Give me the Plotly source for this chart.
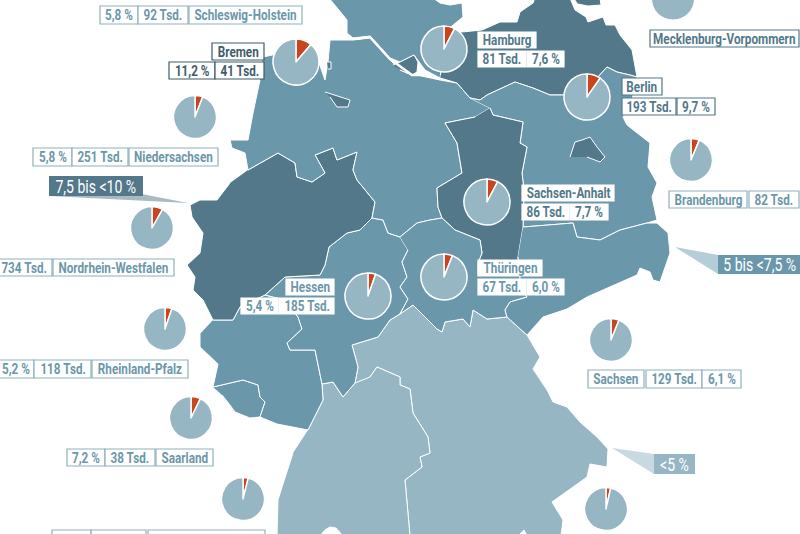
import plotly.graph_objects as go

W = 800
H = 534

# values
states = ["Schleswig-Holstein", "Bremen", "Niedersachsen", "Nordrhein-Westfalen", "Rheinland-Pfalz",
          "Saarland", "Baden-Württemberg", "Hamburg", "Berlin", "Sachsen-Anhalt", "Thüringen",
          "Hessen", "Brandenburg", "Sachsen", "Bayern", "Mecklenburg-Vorpommern"]
share_pct = [5.8, 11.2, 5.8, 8.2, 5.2, 7.2, 3.9, 7.6, 9.7, 7.7, 6.0, 5.4, 6.3, 6.1, 3.5, 8.5]
thousands = [92, 41, 251, 734, 118, 38, 149, 81, 193, 86, 67, 185, 82, 129, 150, 60]

class_names = ["7,5 bis <10 %", "5 bis <7,5 %", "<5 %"]

DARK = "#52788a"
MID = "#6b97ab"
LIGHT = "#97b6c3"
RED = "#c8451f"
LINE_LIGHT = "#8fb0bd"

# state outlines in picture pixels, traced by hand
outlines = {
    "Bayern": [(355, 383), (358, 367), (352, 345), (378, 337), (390, 320), (400, 314), (413, 305), (437, 329),
               (442, 332), (445, 322), (463, 319), (470, 327), (473, 310), (487, 319), (507, 317), (518, 327),
               (527, 335), (540, 357), (533, 369), (547, 390), (553, 402), (567, 407), (580, 422), (597, 437),
               (608, 449), (607, 467), (590, 464), (587, 477), (552, 502), (563, 520), (561, 536), (410, 536),
               (405, 480), (422, 467), (420, 457), (430, 453), (428, 437), (413, 413), (410, 389), (400, 385),
               (400, 377), (377, 367), (370, 377)],
    "Baden-Württemberg": [(308, 430), (323, 400), (322, 384), (333, 382), (343, 397), (355, 383), (370, 377),
                          (377, 367), (400, 377), (400, 385), (410, 389), (413, 413), (428, 437), (430, 453),
                          (420, 457), (422, 467), (405, 480), (410, 536), (277, 536), (278, 500), (283, 484),
                          (293, 453)],
    "Saarland": [(213, 387), (243, 380), (258, 385), (260, 397), (265, 402), (260, 417), (250, 418), (235, 412),
                 (230, 405), (222, 395)],
    "Rheinland-Pfalz": [(213, 320), (233, 320), (240, 307), (265, 295), (285, 300), (298, 317), (302, 329),
                        (287, 343), (290, 350), (315, 350), (322, 384), (323, 400), (308, 430), (277, 424),
                        (260, 417), (265, 402), (260, 397), (258, 385), (243, 380), (213, 387), (218, 364),
                        (200, 347), (200, 334)],
    "Hessen": [(372, 218), (383, 220), (388, 233), (400, 237), (408, 250), (402, 262), (407, 277), (400, 287),
               (408, 299), (400, 314), (390, 320), (378, 337), (352, 345), (358, 367), (355, 383), (343, 397),
               (333, 382), (322, 384), (315, 350), (290, 350), (287, 343), (302, 329), (298, 317), (285, 300),
               (265, 295), (285, 277), (320, 275), (325, 265), (329, 247), (347, 233), (360, 230)],
    "Nordrhein-Westfalen": [(248, 170), (278, 153), (295, 163), (297, 177), (312, 182), (325, 173), (315, 155),
                            (333, 148), (337, 160), (357, 152), (353, 170), (357, 180), (375, 202), (372, 218),
                            (360, 230), (347, 233), (329, 247), (325, 265), (320, 275), (285, 277), (265, 295),
                            (240, 307), (233, 320), (213, 320), (203, 300), (193, 290), (195, 277), (187, 265),
                            (200, 253), (203, 233), (192, 217), (190, 205), (200, 200), (217, 200), (230, 183)],
    "Niedersachsen": [(263, 57), (296, 50), (318, 60), (325, 80), (328, 62), (330, 40), (353, 40), (370, 38),
                      (390, 60), (400, 70), (412, 75), (420, 75), (440, 80), (457, 83), (470, 98), (490, 108),
                      (475, 117), (445, 123), (457, 143), (462, 173), (437, 188), (438, 207), (442, 218),
                      (430, 220), (417, 223), (400, 237), (388, 233), (383, 220), (372, 218), (375, 202),
                      (357, 180), (353, 170), (357, 152), (337, 160), (333, 148), (315, 155), (325, 173),
                      (312, 182), (297, 177), (295, 163), (278, 153), (248, 170), (245, 153), (232, 148),
                      (230, 140), (248, 140), (253, 113), (260, 80)],
    "Schleswig-Holstein": [(329, -2), (347, 20), (347, 33), (353, 38), (370, 36), (390, 58), (400, 62), (414, 55),
                           (425, 70), (440, 78), (447, 30), (453, 25), (463, 17), (462, 3), (450, 5), (440, 3),
                           (433, -2)],
    "Hamburg": [(393, 65), (400, 62), (414, 55), (418, 62), (417, 72), (412, 75), (400, 70)],
    "Mecklenburg-Vorpommern": [(440, 78), (457, 83), (470, 98), (480, 100), (487, 95), (503, 88), (515, 82),
                               (533, 88), (550, 95), (565, 95), (597, 78), (607, 67), (617, 72), (630, 75),
                               (637, 77), (632, 50), (620, 35), (615, 25), (606, 25), (603, 17), (588, 22),
                               (586, 17), (575, 10), (570, -2), (535, -2), (533, 3), (520, 12), (517, 22),
                               (500, 22), (482, 30), (462, 32), (452, 32)],
    "Rügen": [(574, -2), (600, -2), (601, 5), (588, 6), (578, 4)],
    "Brandenburg": [(470, 98), (480, 100), (487, 95), (503, 88), (515, 82), (533, 88), (550, 95), (565, 95),
                    (597, 78), (607, 67), (617, 72), (630, 75), (637, 77), (632, 100), (623, 117), (627, 125),
                    (650, 143), (648, 167), (657, 183), (652, 197), (657, 220), (647, 223), (620, 230),
                    (600, 240), (577, 237), (573, 223), (523, 227), (524, 190), (522, 173), (527, 147),
                    (520, 143), (523, 122), (493, 115), (490, 108)],
    "Berlin": [(570, 157), (575, 142), (582, 140), (590, 137), (597, 147), (605, 157), (600, 162), (587, 157)],
    "Sachsen-Anhalt": [(490, 108), (493, 115), (523, 122), (520, 143), (527, 147), (522, 173), (524, 190),
                       (523, 227), (518, 257), (520, 275), (478, 275), (478, 263), (482, 253), (480, 240),
                       (455, 230), (442, 218), (438, 207), (437, 188), (462, 173), (457, 143), (445, 123),
                       (475, 117)],
    "Thüringen": [(400, 237), (417, 223), (430, 220), (442, 218), (455, 230), (480, 240), (482, 253), (478, 263),
                  (478, 275), (520, 275), (520, 285), (527, 297), (510, 302), (505, 310), (507, 317), (487, 319),
                  (473, 310), (470, 327), (463, 319), (445, 322), (442, 332), (437, 329), (413, 305), (400, 314),
                  (408, 299), (400, 287), (407, 277), (402, 262), (408, 250)],
    "Sachsen": [(523, 227), (573, 223), (577, 237), (600, 240), (620, 230), (647, 223), (657, 223), (668, 233),
                (670, 253), (665, 267), (660, 282), (653, 280), (650, 272), (640, 268), (637, 275), (587, 297),
                (567, 309), (543, 317), (527, 335), (518, 327), (507, 317), (505, 310), (510, 302), (527, 297),
                (520, 285), (520, 275), (518, 257)],
    "Bremen": [(325, 92), (340, 97), (350, 100), (348, 107), (337, 107), (330, 97)],
    "Bremerhaven": [(327, 62), (331, 62), (331, 69), (328, 69)],
    "Bodensee": [(320, 536), (325, 530), (330, 527), (336, 528), (343, 536)],
    "Chiemsee": [(518, 536), (524, 530), (527, 536)],
}
fill_colours = {
    "Bayern": LIGHT, "Baden-Württemberg": LIGHT, "Saarland": MID, "Rheinland-Pfalz": MID, "Hessen": MID,
    "Nordrhein-Westfalen": DARK, "Niedersachsen": MID, "Schleswig-Holstein": MID, "Hamburg": DARK,
    "Mecklenburg-Vorpommern": DARK, "Rügen": DARK, "Brandenburg": MID, "Berlin": DARK, "Sachsen-Anhalt": DARK,
    "Thüringen": MID, "Sachsen": MID, "Bremen": DARK, "Bremerhaven": DARK, "Bodensee": "white",
    "Chiemsee": "white",
}
elbe = [(353, 39), (370, 37), (390, 59), (400, 66), (412, 75), (420, 75), (440, 79)]

# pie position and radius, pixels
pie_spots = {
    "Bremen": (296, 62, 23), "Niedersachsen": (195, 117, 21.5), "Nordrhein-Westfalen": (152, 228, 21.5),
    "Rheinland-Pfalz": (165, 329, 21.5), "Saarland": (191, 418, 21.5), "Baden-Württemberg": (243, 499, 21.5),
    "Hamburg": (444, 49, 23), "Berlin": (587, 97, 23), "Sachsen-Anhalt": (487, 202, 23),
    "Thüringen": (444, 277, 23), "Hessen": (368, 296, 23), "Brandenburg": (691, 160, 21.5),
    "Sachsen": (611, 340, 21.5), "Bayern": (606, 509, 21.5),
}

# label cells: which field, x0, x1, y0, y1
label_cells = {
    "Schleswig-Holstein": [("pct", 100, 138, 6, 24), ("tsd", 138, 188, 6, 24), ("name", 189, 302, 6, 24)],
    "Bremen": [("name", 212, 264, 43, 60), ("pct", 169, 215, 62, 79), ("tsd", 215, 264, 62, 79)],
    "Niedersachsen": [("pct", 33, 72, 148, 166), ("tsd", 72, 128, 148, 166), ("name", 129, 218, 148, 166)],
    "Nordrhein-Westfalen": [("tsd", -5, 52, 259, 276), ("name", 53, 174, 259, 276)],
    "Rheinland-Pfalz": [("pct", -3, 34, 360, 378), ("tsd", 34, 91, 360, 378), ("name", 92, 188, 360, 378)],
    "Saarland": [("pct", 67, 105, 449, 466), ("tsd", 105, 155, 449, 466), ("name", 156, 213, 449, 466)],
    "Baden-Württemberg": [("pct", 52, 91, 530, 548), ("tsd", 91, 146, 530, 548), ("name", 148, 265, 530, 548)],
    "Hamburg": [("name", 478, 536, 32, 48), ("tsd", 478, 526, 51, 67), ("pct", 527, 564, 51, 67)],
    "Berlin": [("name", 622, 662, 78, 95), ("tsd", 622, 676, 98, 115), ("pct", 677, 715, 98, 115)],
    "Sachsen-Anhalt": [("name", 522, 614, 185, 201), ("tsd", 522, 569, 204, 220), ("pct", 570, 608, 204, 220)],
    "Thüringen": [("name", 478, 542, 260, 276), ("tsd", 478, 526, 279, 295), ("pct", 527, 564, 279, 295)],
    "Hessen": [("name", 286, 334, 279, 295), ("pct", 241, 278, 298, 314), ("tsd", 279, 334, 298, 314)],
    "Brandenburg": [("name", 669, 747, 191, 208), ("tsd", 749, 799, 191, 208)],
    "Sachsen": [("name", 588, 644, 370, 388), ("tsd", 646, 702, 370, 388), ("pct", 702, 741, 370, 388)],
    "Mecklenburg-Vorpommern": [("name", 650, 799, 30, 47)],
}
# text colour, border colour per label
label_styles = {
    "Bremen": ("#3f5c6b", "#3f5c6b"),
    "Mecklenburg-Vorpommern": (DARK, DARK),
    "Hamburg": (DARK, "white"),
    "Berlin": (DARK, DARK),
    "Sachsen-Anhalt": (DARK, "white"),
    "Thüringen": (MID, "white"),
    "Hessen": (MID, "white"),
}

# class legend: box x0, x1, y0, y1, box colour, wedge colour, wedge tip
class_boxes = [
    (49, 143, 176, 196, DARK, "#a9bac2", (188, 203)),
    (718, 812, 255, 274, MID, "#b5cdd8", (675, 247)),
    (654, 695, 454, 474, LIGHT, "#c8d9e0", (612, 448)),
]

LABEL_FONT = "Roboto, sans-serif"

fig = go.Figure()

for name, pts in outlines.items():
    fig.add_trace(go.Scatter(x=[p[0] for p in pts], y=[p[1] for p in pts], mode="lines", fill="toself",
                             fillcolor=fill_colours[name], line=dict(color="white", width=1),
                             hoverinfo="skip", showlegend=False))

fig.add_trace(go.Scatter(x=[p[0] for p in elbe], y=[p[1] for p in elbe], mode="lines",
                         line=dict(color="white", width=2.5), hoverinfo="skip", showlegend=False))

for name, (cx, cy, r) in pie_spots.items():
    value = share_pct[states.index(name)]
    fig.add_trace(go.Pie(values=[value, 100 - value], sort=False, direction="clockwise", rotation=0,
                         marker=dict(colors=[RED, LIGHT], line=dict(color="white", width=1.5)),
                         textinfo="none", showlegend=False, hoverinfo="skip",
                         domain=dict(x=[(cx - r) / W, (cx + r) / W], y=[1 - (cy + r) / H, 1 - (cy - r) / H])))

# the pie of Mecklenburg-Vorpommern is cut by the top edge, a pie domain can't leave the page
fig.add_shape(type="circle", x0=651.5, x1=694.5, y0=-23, y1=20, fillcolor=LIGHT, line=dict(color="white", width=1))


def cell_text(state, field):
    i = states.index(state)
    if field == "name":
        return state
    if field == "tsd":
        return f"{thousands[i]} Tsd."
    return f"{share_pct[i]:.1f}".replace(".", ",") + " %"


for state, cells in label_cells.items():
    text_col, border_col = label_styles.get(state, (MID, LINE_LIGHT))
    for field, x0, x1, y0, y1 in cells:
        fig.add_shape(type="rect", x0=x0, x1=x1, y0=y0, y1=y1, fillcolor="white",
                      line=dict(color=border_col, width=1.2))
        # rows that run off the bottom are anchored on their top edge
        anchor_y, anchor = ((y0 + y1) / 2, "middle") if y1 <= H else (y0 + 1, "top")
        fig.add_annotation(x=(x0 + x1) / 2, y=anchor_y, text=cell_text(state, field), showarrow=False,
                           yanchor=anchor, font=dict(family=LABEL_FONT, size=15, color=text_col, weight="bold"))

for label, (x0, x1, y0, y1, box_col, wedge_col, tip) in zip(class_names, class_boxes):
    fig.add_shape(type="path", path=f"M {x0} {y0} L {tip[0]} {tip[1]} L {x0} {y1} Z", fillcolor=wedge_col,
                  line=dict(width=0))
    fig.add_shape(type="rect", x0=x0, x1=x1, y0=y0, y1=y1, fillcolor=box_col, line=dict(width=0))
    fig.add_annotation(x=(x0 + min(x1, W)) / 2, y=(y0 + y1) / 2, text=label, showarrow=False,
                       font=dict(family=LABEL_FONT, size=18, color="white"))

fig.update_xaxes(range=[0, W], visible=False, fixedrange=True)
fig.update_yaxes(range=[H, 0], visible=False, fixedrange=True)
fig.update_layout(width=W, height=H, margin=dict(l=0, r=0, t=0, b=0), paper_bgcolor="white",
                  plot_bgcolor="white")

# no condensed face installed: narrow the Roboto labels, and drop the default page margin
post = """
document.body.style.margin = '0';
document.body.style.overflow = 'hidden';
document.querySelectorAll('.annotation-text').forEach(function (t) {
    t.setAttribute('textLength', t.getComputedTextLength() * 0.78);
    t.setAttribute('lengthAdjust', 'spacingAndGlyphs');
});
"""
fig.write_html("out.html", config=dict(displayModeBar=False), post_script=post)
